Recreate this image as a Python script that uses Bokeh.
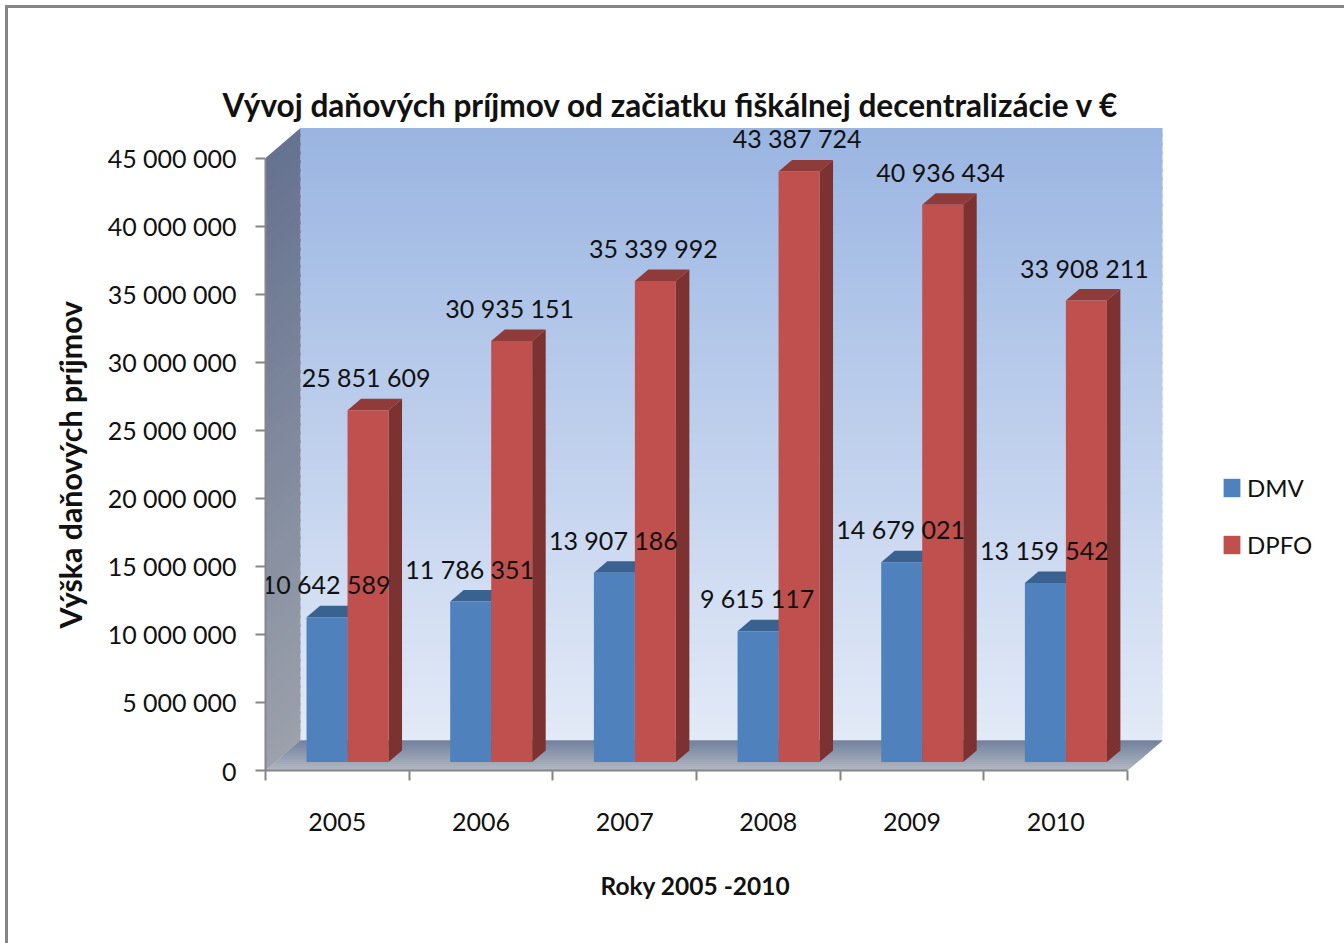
import numpy as np
from bokeh.plotting import figure
from bokeh.embed import file_html
from bokeh.resources import INLINE
from bokeh.core.properties import value
from bokeh.models import FixedTicker, Legend, LegendItem, Range1d, Title

years = ["2005", "2006", "2007", "2008", "2009", "2010"]
dmv = [10642589, 11786351, 13907186, 9615117, 14679021, 13159542]
dpfo = [25851609, 30935151, 35339992, 43387724, 40936434, 33908211]
dmv_labels = ["10 642 589", "11 786 351", "13 907 186", "9 615 117", "14 679 021", "13 159 542"]
dpfo_labels = ["25 851 609", "30 935 151", "35 339 992", "43 387 724", "40 936 434", "33 908 211"]
y_ticks = [0, 5000000, 10000000, 15000000, 20000000, 25000000, 30000000, 35000000, 40000000, 45000000]
y_tick_labels = ["0", "5 000 000", "10 000 000", "15 000 000", "20 000 000", "25 000 000",
                 "30 000 000", "35 000 000", "40 000 000", "45 000 000"]
title_text = "Vývoj daňových príjmov od začiatku fiškálnej decentralizácie v €"
x_title = "Roky 2005 -2010"
y_title = "Výška daňových príjmov"
FONT = "Lato"

# geometry: pixels per data unit
PX = 143.67
PY = 13.61e-6
FW, FH = 900, 645
W_FIG, H_FIG = 1329, 935
L, T = 257, 117
xu = lambda px: px / PX
yu = lambda px: px / PY

p = figure(width=W_FIG, height=H_FIG, frame_width=FW, frame_height=FH, output_backend="svg",
           toolbar_location=None, x_range=Range1d(0, xu(FW)), y_range=Range1d(0, yu(FH)),
           min_border_left=L, min_border_top=T, min_border_right=W_FIG - L - FW,
           min_border_bottom=H_FIG - T - FH, background_fill_color="white", border_fill_color="white",
           outline_line_color=None)
B = "#868686"
p.styles = {"position": "absolute", "left": "8px", "top": "8px",
            "box-shadow": f"-3px 0 0 {B}, 3px 0 0 {B}, 0 -3px 0 {B}, -3px -3px 0 {B}, 3px -3px 0 {B}"}
p.grid.visible = False


def mix(a, b, t):
    c = [round(a[i] + (b[i] - a[i]) * t) for i in range(3)]
    return "#%02x%02x%02x" % tuple(c)


# back wall, side wall and floor gradients, drawn as thin overlapping bands
DX, DY = xu(35), yu(30)
TOP = 45000000
n = 70
edges = np.linspace(0, TOP, n + 1)
bx, by, bc = [], [], []
sx, sy, sc = [], [], []
for i in range(n):
    t = (i + .5) / n
    y0, y1 = edges[i], min(edges[i + 1] + yu(3), TOP)
    bx.append([DX, 6 + DX, 6 + DX, DX])
    by.append([y0 + DY, y0 + DY, y1 + DY, y1 + DY])
    bc.append(mix((0xe3, 0xea, 0xf7), (0x9a, 0xb5, 0xe2), t))
    sx.append([0, DX, DX, 0])
    sy.append([y0, y0 + DY, y1 + DY, y1])
    sc.append(mix((0x9c, 0xa1, 0xab), (0x65, 0x72, 0x90), t))
p.patches(bx, by, fill_color=bc, line_color=None)
p.patches(sx, sy, fill_color=sc, line_color=None)
m = 14
fx, fy, fc = [], [], []
for i in range(m):
    a, b = i / m, min((i + 2) / m, 1)
    fx.append([DX * a, 6 + DX * a, 6 + DX * b, DX * b])
    fy.append([DY * a, DY * a, DY * b, DY * b])
    fc.append(mix((0xb0, 0xb6, 0xc1), (0x74, 0x82, 0x9f), i / (m - 1)))
p.patches(fx, fy, fill_color=fc, line_color=None)

# bars
OX, OY = xu(10.2), yu(8.5)      # front-face offset
SX, SY = xu(13.5), yu(11.5)     # depth of a bar
W = 41 / PX
centers = np.arange(6) + 0.5 + OX


def bars(left, vals, face, top, side):
    vals = np.array(vals, dtype=float)
    right = left + W
    ys = vals + OY
    p.patches([[l, l + SX, r + SX, r] for l, r in zip(left, right)],
              [[y, y + SY, y + SY, y] for y in ys], fill_color=top, line_color=None)
    p.patches([[r, r + SX, r + SX, r] for r in right],
              [[OY, OY + SY, y + SY, y] for y in ys], fill_color=side, line_color=None)
    return p.quad(left=left, right=right, bottom=OY, top=ys, fill_color=face, line_color=None)


r_dmv = bars(centers - W, dmv, "#4f81bd", "#3a6290", "#385d8a")
r_dpfo = bars(centers, dpfo, "#c0504d", "#8f3b39", "#7c3230")

# data labels
text_kw = dict(text_font=value(FONT), text_font_size="25px", text_color="#111111",
               text_align="center", text_baseline="middle", y_offset=-33)
p.text(centers - W / 2 - xu(1), np.array(dmv) + OY, text=dmv_labels, **text_kw)
p.text(centers + W / 2 - xu(2), np.array(dpfo) + OY, text=dpfo_labels, **text_kw)

# axes
AX = "#868686"
ya = p.yaxis[0]
ya.ticker = FixedTicker(ticks=y_ticks)
ya.major_label_overrides = {t: s for t, s in zip(y_ticks, y_tick_labels)}
ya.bounds = (0, TOP)
ya.axis_line_color = AX
ya.axis_line_width = 2
ya.major_tick_line_color = AX
ya.major_tick_line_width = 2
ya.major_tick_in = 0
ya.major_tick_out = 10
ya.minor_tick_line_color = None
ya.major_label_standoff = 19
ya.major_label_text_font = FONT
ya.major_label_text_font_size = "25px"
ya.major_label_text_color = "#111111"

xa = p.xaxis[0]
year_pos = [i + 0.5 for i in range(6)]
xa.ticker = FixedTicker(ticks=year_pos, minor_ticks=list(range(7)))
xa.major_label_overrides = {t: s for t, s in zip(year_pos, years)}
xa.bounds = (0, 6)
xa.axis_line_color = AX
xa.axis_line_width = 2
xa.major_tick_line_color = None
xa.major_tick_in = 0
xa.major_tick_out = 0
xa.minor_tick_line_color = AX
xa.minor_tick_line_width = 2
xa.minor_tick_in = 0
xa.minor_tick_out = 10
xa.major_label_standoff = 32
xa.major_label_text_font = FONT
xa.major_label_text_font_size = "25px"
xa.major_label_text_color = "#111111"

# titles (main title and the two axis titles, placed off the frame's centre as in the source)
p.add_layout(Title(text=title_text, align="left", offset=-43, standoff=0, vertical_align="top",
                   text_font=FONT, text_font_style="bold", text_font_size="31.6px",
                   text_color="#111111"), "above")
# an invisible tiny title sits between the main title and the frame, as a spacer
p.add_layout(Title(text=".", standoff=46, text_font_size="1px", text_alpha=0), "above")
p.add_layout(Title(text=y_title, align="left", offset=142, standoff=33,
                   text_font=FONT, text_font_style="bold", text_font_size="30.3px",
                   text_color="#111111"), "left")
p.add_layout(Title(text=x_title, align="left", offset=335, standoff=70,
                   text_font=FONT, text_font_style="bold", text_font_size="24.5px",
                   text_color="#111111"), "below")

# legend
legend = Legend(items=[LegendItem(label="DMV", renderers=[r_dmv]), LegendItem(label="DPFO", renderers=[r_dpfo])],
                location=(56, 211), padding=0, margin=0, spacing=28, label_standoff=5,
                glyph_width=21, glyph_height=23, label_text_font=FONT, label_text_font_size="24px",
                label_text_color="#111111", background_fill_alpha=0, border_line_color=None)
p.add_layout(legend, "right")

open("out.html", "w").write(file_html(p, INLINE))
